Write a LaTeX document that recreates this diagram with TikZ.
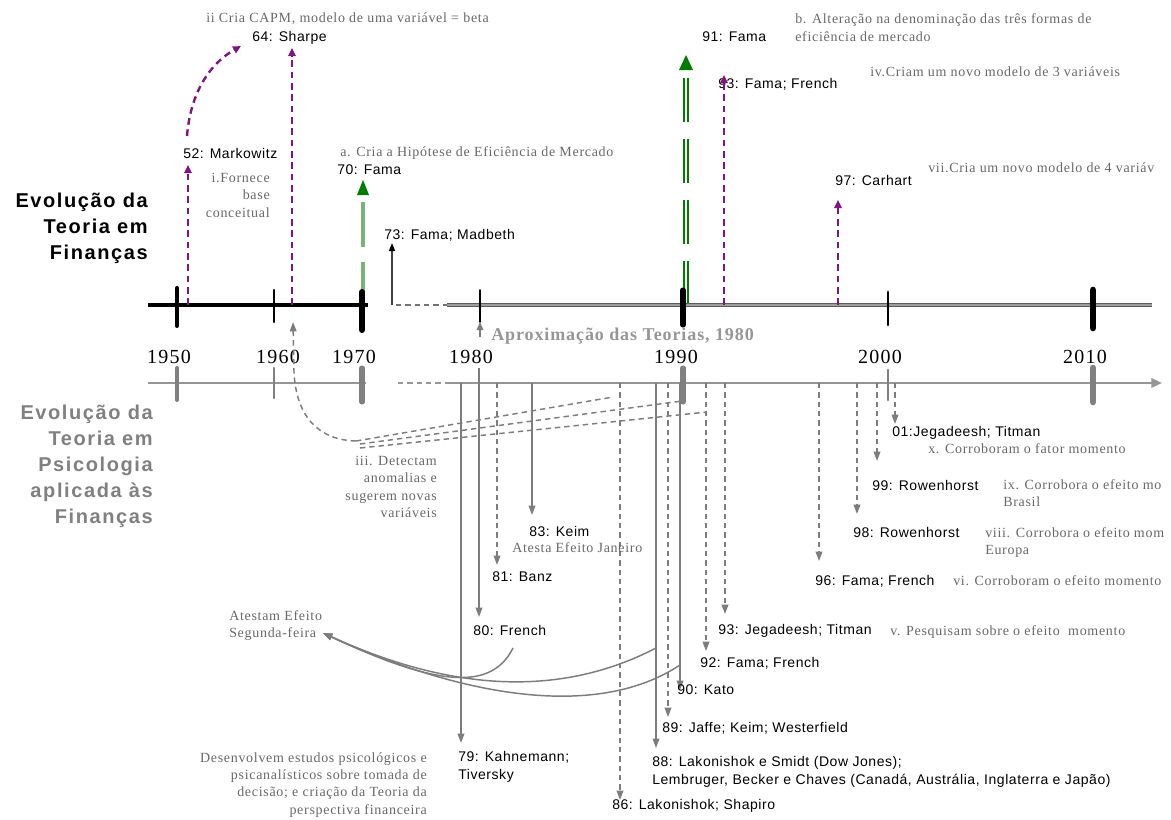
\documentclass[tikz,border=0pt]{standalone}
\usepackage{fontspec}
\setmainfont{Liberation Serif}
\usetikzlibrary{arrows.meta}
\newfontfamily\lblfam{Liberation Sans}[LetterSpace=4]
\newfontfamily\notefam{Liberation Serif}[LetterSpace=5]
\newfontfamily\titlefam{Liberation Sans}[LetterSpace=8]
\newfontfamily\yearfam{Liberation Serif}[LetterSpace=6]
\definecolor{purp}{RGB}{128,20,128}
\definecolor{dkgreen}{RGB}{0,125,0}
\definecolor{ltgreen}{RGB}{120,180,120}
\definecolor{lgray}{RGB}{125,125,125}
\definecolor{axgray}{RGB}{115,115,115}
\definecolor{bgray}{RGB}{150,150,150}
\definecolor{notegray}{RGB}{105,105,105}
\definecolor{titlegray}{RGB}{128,128,128}
\tikzset{
  lbl/.style={font=\lblfam\fontsize{10.5}{13.5}\selectfont, inner sep=0pt, anchor=west},
  note/.style={font=\notefam\fontsize{10.5}{13}\selectfont, text=notegray, inner sep=0pt, anchor=west},
  ttl/.style={font=\titlefam\bfseries\fontsize{15}{19.5}\selectfont, inner sep=0pt, align=right, anchor=north east},
  yearlbl/.style={font=\yearfam\fontsize{15}{18}\selectfont, inner sep=0pt},
  purpline/.style={draw=purp, line width=1.8pt, dash pattern=on 5pt off 3.5pt, -{Triangle[length=6pt,width=5.5pt]}},
  gsolid/.style={draw=lgray, line width=1.1pt, -{Triangle[length=7pt,width=5pt]}},
  gdashed/.style={draw=lgray, line width=1.1pt, dash pattern=on 4pt off 3pt, -{Triangle[length=7pt,width=5pt]}},
  gfan/.style={draw=lgray, line width=1.1pt, dash pattern=on 4pt off 3pt},
  tickb/.style={draw=black, line cap=round},
  tickg/.style={draw=bgray!85!black, line cap=round},
}
\begin{document}
\begin{tikzpicture}[x=0.75pt,y=-0.75pt]
\useasboundingbox (0,0) rectangle (1171,819);
\fill[white] (0,0) rectangle (1171,819);

% ---------- titles ----------
\node[ttl] (tfin) at (148,192.5) {Evolução da\\Teoria em\\Finanças};
\node[ttl, text=titlegray] (tpsi) at (153,404.5) {Evolução da\\Teoria em\\Psicologia\\aplicada às\\Finanças};

% ---------- green arrows (behind axis) ----------
\coordinate (g70a) at (363,202);
\coordinate (g70b) at (363,305);
\draw[ltgreen, line width=3.6pt, dash pattern=on 33.75pt off 11.25pt] (g70a) -- (g70b);
\fill[dkgreen] (363,180) -- (357,195) -- (369,195) -- cycle;
\coordinate (g91a) at (686,78);
\coordinate (g91b) at (686,305);
\draw[dkgreen, line width=1.1pt, double=white, double distance=1.6pt, dash pattern=on 33pt off 12.75pt] (g91a) -- (g91b);
\fill[dkgreen] (686,55) -- (679,70) -- (693,70) -- cycle;

% ---------- top axis ----------
\coordinate (ta0) at (148,305);
\coordinate (ta1) at (368,305);
\coordinate (ta2) at (396,305);
\coordinate (ta3) at (447,305);
\coordinate (ta4) at (1162,305);
\draw[black, line width=2.3pt] (ta0) -- (ta1);
\draw[axgray, line width=1.5pt, dash pattern=on 4pt off 3pt] (ta2) -- (ta3);
\draw[draw=axgray!80!black, double=axgray!70, line width=0.6pt, double distance=1.3pt] (ta3) -- (1152,305);
\draw[draw=none, -{Triangle[length=8pt,width=7pt,color=black]}] (1150,305) -- (ta4);

% ---------- bottom axis ----------
\coordinate (ba0) at (148,383);
\coordinate (ba1) at (366,383);
\coordinate (ba2) at (398,383);
\coordinate (ba3) at (447,383);
\coordinate (ba4) at (1162,383);
\draw[bgray, line width=1.8pt] (ba0) -- (ba1);
\draw[bgray, line width=1.5pt, dash pattern=on 4pt off 3pt] (ba2) -- (ba3);
\draw[bgray, line width=1.8pt, -{Triangle[length=8pt,width=7pt]}] (ba3) -- (ba4);

% ---------- ticks ----------
\draw[tickb, line width=3pt] (177,288) -- (177,326);
\draw[tickb, line width=1.9pt] (274,290) -- (274,322);
\draw[tickb, line width=4.5pt] (362,292) -- (362,330);
\draw[tickb, line width=1.1pt] (480,290) -- (480,322);
\draw[tickb, line width=3.8pt] (683,290) -- (683,325);
\draw[tickb, line width=2.2pt] (888,292) -- (888,325);
\draw[tickb, line width=5pt] (1093,290) -- (1093,328);
\draw[tickg, line width=3pt] (177,368) -- (177,400);
\draw[tickg, line width=1.9pt] (274,368) -- (274,398);
\draw[tickg, line width=3.8pt] (362,368) -- (362,402);
\draw[tickg, line width=3.8pt] (683,368) -- (683,402);
\draw[tickg, line width=2.2pt] (888,370) -- (888,400);
\draw[tickg, line width=5pt] (1093,368) -- (1093,402);

% ---------- years ----------
\node[yearlbl] (y50) at (169,357) {1950};
\node[yearlbl] (y60) at (278,357) {1960};
\node[yearlbl] (y70) at (354,357) {1970};
\node[yearlbl] (y80) at (471,357) {1980};
\node[yearlbl] (y90) at (676,357) {1990};
\node[yearlbl] (y00) at (880,357) {2000};
\node[yearlbl] (y10) at (1085,357) {2010};

% ---------- upper labels ----------
\node[note] (nii) at (206,19) {ii Cria CAPM, modelo de uma variável = beta};
\node[lbl] (n64) at (252,38) {64: Sharpe};
\node[lbl] (n52) at (183,153) {52: Markowitz};
\node[note, align=right, anchor=north east] (ni) at (270,173) {i.Fornece\\base\\conceitual};
\node[note] (na) at (340,153) {a. Cria a Hipótese de Eficiência de Mercado};
\node[lbl] (n70) at (337,170) {70: Fama};
\node[lbl] (n73) at (384,235) {73: Fama; Madbeth};
\node[lbl] (n91) at (702,37) {91: Fama};
\node[note, align=left, anchor=north west, font=\notefam\fontsize{10.5}{14}\selectfont] (nb) at (795,13) {b. Alteração na denominação das três formas de\\eficiência de mercado};
\node[lbl] (n93) at (718,84) {93: Fama; French};
\node[note] (niv) at (870,72) {iv.Criam um novo modelo de 3 variáveis};
\node[lbl] (n97) at (835,180) {97: Carhart};
\node[note] (nvii) at (928,168) {vii.Cria um novo modelo de 4 variáv};

% ---------- upper arrows ----------
\coordinate (p52a) at (188,305); \coordinate (p52b) at (188,165);
\draw[purpline] (p52a) -- (p52b);
\coordinate (p64a) at (292,305); \coordinate (p64b) at (292,48);
\draw[purpline] (p64a) -- (p64b);
\coordinate (pc0) at (187,136); \coordinate (pc1) at (241,46);
\draw[purpline] (pc0) .. controls (190,98) and (206,66) .. (pc1);
\coordinate (p93a) at (724,305); \coordinate (p93b) at (724,75);
\draw[purpline] (p93a) -- (p93b);
\coordinate (p97a) at (838,305); \coordinate (p97b) at (838,200);
\draw[purpline] (p97a) -- (p97b);
\coordinate (k73a) at (392,305); \coordinate (k73b) at (392,243);
\draw[draw=black!75, line width=1.1pt, -{Triangle[length=6pt,width=4.5pt,color=black]}] (k73a) -- (k73b);

% Aproximação
\coordinate (ap0) at (480,337); \coordinate (ap1) at (480,322);
\draw[lgray, line width=1pt, -{Triangle[length=6pt,width=5pt]}] (ap0) -- (ap1);
\node[inner sep=0pt, anchor=west, text=bgray, font=\notefam\bfseries\fontsize{13.5}{16}\selectfont] (apr) at (491,336) {Aproximação das Teorias, 1980};

% ---------- iii dashed curve and fan ----------
\coordinate (jn) at (356,441);
\coordinate (iiiT) at (293,322);
\draw[gdashed] (jn) .. controls (318,440) and (296,416) .. (294,372) -- (iiiT);
\coordinate (fa) at (613,397);
\coordinate (fb) at (682,401);
\coordinate (fc) at (707,412);
\draw[gfan] (jn) -- (fa);
\draw[gfan] (360,444) -- (fb);
\draw[gfan] (360,448) -- (fc);
\node[note, align=right, anchor=north east] (niii) at (437,456) {iii. Detectam\\anomalias e\\sugerem novas\\variáveis};

% ---------- lower verticals ----------
\coordinate (v79a) at (461,383); \coordinate (v79b) at (461,743);
\draw[gsolid] (v79a) -- (v79b);
\coordinate (v80a) at (479,368); \coordinate (v80b) at (479,617);
\draw[gsolid] (v80a) -- (v80b);
\coordinate (v81a) at (497,383); \coordinate (v81b) at (497,565);
\draw[gdashed] (v81a) -- (v81b);
\coordinate (v83a) at (532,383); \coordinate (v83b) at (532,515);
\draw[gsolid] (v83a) -- (v83b);
\coordinate (v86a) at (620,383); \coordinate (v86b) at (620,800);
\draw[gdashed] (v86a) -- (v86b);
\coordinate (v88a) at (656,383); \coordinate (v88b) at (656,748);
\draw[gsolid] (v88a) -- (v88b);
\coordinate (v89a) at (668,383); \coordinate (v89b) at (668,717);
\draw[gdashed] (v89a) -- (v89b);
\coordinate (v90a) at (680,383); \coordinate (v90b) at (680,690);
\draw[gsolid] (v90a) -- (v90b);
\coordinate (v92a) at (706,383); \coordinate (v92b) at (706,651);
\draw[gdashed] (v92a) -- (v92b);
\coordinate (v93a) at (725,383); \coordinate (v93b) at (725,614);
\draw[gdashed] (v93a) -- (v93b);
\coordinate (v96a) at (819,383); \coordinate (v96b) at (819,561);
\draw[gdashed] (v96a) -- (v96b);
\coordinate (v98a) at (857,383); \coordinate (v98b) at (857,514);
\draw[gdashed] (v98a) -- (v98b);
\coordinate (v99a) at (877,383); \coordinate (v99b) at (877,461);
\draw[gdashed] (v99a) -- (v99b);
\coordinate (v01a) at (895,383); \coordinate (v01b) at (895,424);
\draw[gdashed] (v01a) -- (v01b);

% ---------- lower labels ----------
\node[lbl, align=left, anchor=north west] (n79) at (458,751) {79: Kahnemann;\\Tiversky};
\node[lbl] (n80) at (473,630) {80: French};
\node[lbl] (n81) at (492,577) {81: Banz};
\node[lbl] (n83) at (529,531) {83: Keim};
\node[note] (nja) at (512,548) {Atesta Efeito Janeiro};
\node[lbl] (n86) at (612,806) {86: Lakonishok; Shapiro};
\node[lbl, align=left, anchor=north west] (n88) at (652,756) {88: Lakonishok e Smidt (Dow Jones);\\Lembruger, Becker e Chaves (Canadá, Austrália, Inglaterra e Japão)};
\node[lbl] (n89) at (662,728) {89: Jaffe; Keim; Westerfield};
\node[lbl] (n90) at (677,690) {90: Kato};
\node[lbl] (n92) at (700,663) {92: Fama; French};
\node[lbl] (n93j) at (718,631) {93: Jegadeesh; Titman};
\node[note] (nv) at (890,632) {v. Pesquisam sobre o efeito\ \ momento};
\node[lbl] (n96) at (815,581) {96: Fama; French};
\node[note] (nvi) at (953,581) {vi. Corroboram o efeito momento};
\node[lbl] (n98) at (853,532) {98: Rowenhorst};
\node[note, align=left, anchor=north west] (nviii) at (985,527) {viii. Corrobora o efeito mom\\Europa};
\node[lbl] (n99) at (872,485) {99: Rowenhorst};
\node[note, align=left, anchor=north west] (nix) at (1003,479) {ix. Corrobora o efeito mo\\Brasil};
\node[lbl] (n01) at (892,433) {01:Jegadeesh; Titman};
\node[note] (nx) at (928,449) {x. Corroboram o fator momento};

% ---------- Segunda-feira curves ----------
\node[note, align=left, anchor=north west, font=\notefam\fontsize{10.5}{12.75}\selectfont] (nseg) at (229,610) {Atestam Efeito\\Segunda-feira};
\coordinate (sA) at (323,633);
\coordinate (c80) at (513,648);
\coordinate (c88) at (656,648);
\coordinate (c90) at (680,665);
\draw[draw=lgray, line width=1.1pt, -{Triangle[length=7pt,width=5pt]}] (c90) .. controls (600,718) and (470,700) .. (sA);
\draw[draw=lgray, line width=1.1pt, -{Triangle[length=7pt,width=5pt]}] (c88) .. controls (575,690) and (470,700) .. (sA);
\draw[draw=lgray, line width=1.1pt, -{Triangle[length=7pt,width=5pt]}] (c80) .. controls (492,690) and (440,688) .. (sA);

\node[note, align=right, anchor=north east] (ndes) at (427,752) {Desenvolvem estudos psicológicos e\\psicanalísticos sobre tomada de\\decisão; e criação da Teoria da\\perspectiva financeira};
\end{tikzpicture}
\end{document}
